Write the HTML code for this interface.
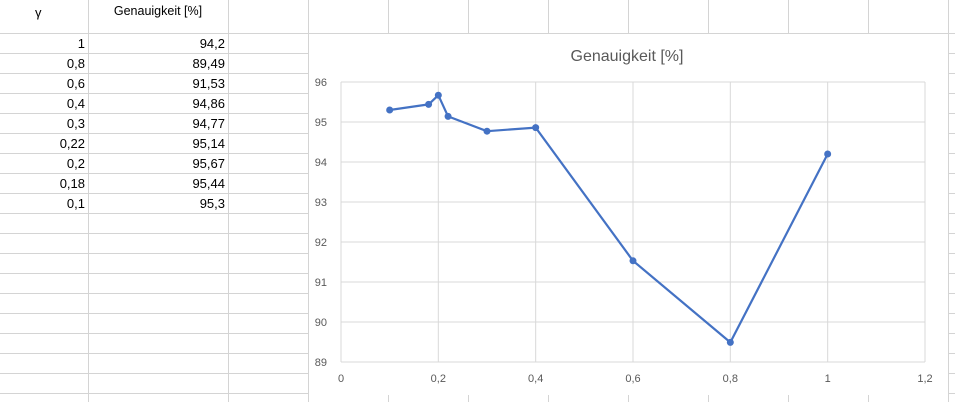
<!DOCTYPE html>
<html><head><meta charset="utf-8"><style>
body{margin:0;width:955px;height:402px;overflow:hidden;background:#fff;font-family:"Liberation Sans",sans-serif;}
svg{position:absolute;left:0;top:0}
</style></head><body>
<svg width="955" height="402">
<g id="grid" stroke="#d4d4d4" stroke-width="1"></g>
<g id="cells" font-size="13" fill="#000"></g>
<g id="chart"></g>
</svg>
<script>
const gammas=["1","0,8","0,6","0,4","0,3","0,22","0,2","0,18","0,1"];
const accLabels=["94,2","89,49","91,53","94,86","94,77","95,14","95,67","95,44","95,3"];
const xVals=[1,0.8,0.6,0.4,0.3,0.22,0.2,0.18,0.1];
const yVals=[94.2,89.49,91.53,94.86,94.77,95.14,95.67,95.44,95.3];
const xTicks=["0","0,2","0,4","0,6","0,8","1","1,2"];
const yTicks=["89","90","91","92","93","94","95","96"];
const NS="http://www.w3.org/2000/svg";
function mk(t,a,p,txt){const e=document.createElementNS(NS,t);for(const k in a)e.setAttribute(k,a[k]);if(txt!==undefined)e.textContent=txt;p.appendChild(e);return e;}
const grid=document.getElementById('grid'),cells=document.getElementById('cells'),chart=document.getElementById('chart');
// sheet grid
[88,228,308,388,468,548,628,708,788,868,948].forEach(x=>{const l=mk('line',{x1:x+.5,y1:0,x2:x+.5,y2:402},grid);});
for(let y=33;y<402;y+=20){const l=mk('line',{x1:0,y1:y+.5,x2:955,y2:y+.5},grid);}
let h=mk('text',{x:35,y:17,'font-size':13},cells,'γ');
h=mk('text',{x:158,y:15,'text-anchor':'middle','font-size':12.5},cells,'Genauigkeit [%]');
gammas.forEach((g,i)=>{const y=48+i*20;
 let t=mk('text',{x:85,y:y,'text-anchor':'end'},cells,g);
 t=mk('text',{x:225,y:y,'text-anchor':'end'},cells,accLabels[i]);});
// chart
const bg=mk('rect',{x:309,y:34,width:639,height:361,fill:'#fff'},chart);
const tt=mk('text',{x:627,y:61,'text-anchor':'middle','font-size':16,fill:'#595959'},chart,'Genauigkeit [%]');
const X0=341,X1=925,Y0=362,Y1=82;
const sx=v=>X0+(X1-X0)*v/1.2, sy=v=>Y0-(Y0-Y1)*(v-89)/7;
yTicks.forEach(t=>{const v=parseFloat(t),y=sy(v);
 const l=mk('line',{x1:X0,y1:y,x2:X1,y2:y,stroke:'#d9d9d9'},chart);
 const tx=mk('text',{x:X0-14,y:y+4,'text-anchor':'end','font-size':11,fill:'#595959'},chart,t);});
xTicks.forEach(t=>{const v=parseFloat(t.replace(',','.')),x=sx(v);
 const l=mk('line',{x1:x,y1:Y1,x2:x,y2:Y0,stroke:'#d9d9d9'},chart);
 const tx=mk('text',{x:x,y:Y0+20,'text-anchor':'middle','font-size':11,fill:'#595959'},chart,t);});
const pts=xVals.map((x,i)=>[x,yVals[i]]).sort((a,b)=>a[0]-b[0]);
const pl=mk('polyline',{points:pts.map(p=>sx(p[0])+','+sy(p[1])).join(' '),fill:'none',stroke:'#4472c4','stroke-width':2.2,'stroke-linejoin':'round'},chart);

pts.forEach(p=>{const c=mk('circle',{cx:sx(p[0]),cy:sy(p[1]),r:3.5,fill:'#4472c4'},chart);});
</script>
</body></html>
